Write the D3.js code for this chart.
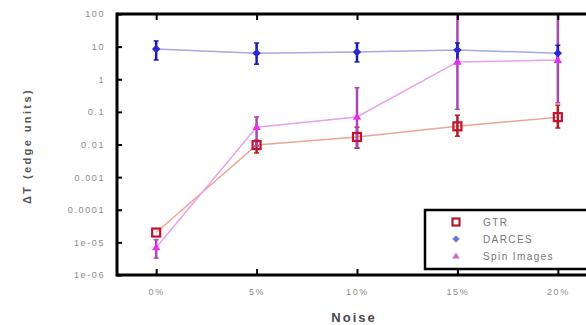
<!DOCTYPE html>
<html>
<head>
<meta charset="utf-8">
<script src="https://cdn.jsdelivr.net/npm/d3@7"></script>
<style>
  html, body { margin: 0; padding: 0; background: #fff; }
  svg { display: block; }
  text { font-family: "Liberation Sans", Arial, sans-serif; }
</style>
</head>
<body>
<svg id="chart" width="586" height="325"></svg>
<script>
// Noise levels (percent) on the x axis
const noise = [0, 5, 10, 15, 20];
const noiseLabels = ["0%", "5%", "10%", "15%", "20%"];

// Decade ticks on the log y axis
const yTicks = [1e-6, 1e-5, 1e-4, 1e-3, 1e-2, 1e-1, 1, 10, 100];
const yTickLabels = ["1e-06", "1e-05", "0.0001", "0.001", "0.01", "0.1", "1", "10", "100"];

// GTR
const gtrMean = [2e-5, 0.0096, 0.017, 0.036, 0.069];
const gtrLow  = [2e-5, 0.0055, 0.0077, 0.018, 0.032];
const gtrHigh = [2e-5, 0.0136, 0.034, 0.079, 0.16];

// DARCES
const darcesMean = [8.5, 6.3, 6.8, 7.9, 6.3];
const darcesLow  = [3.9, 2.9, 3.4, 3.4, 3.4];
const darcesHigh = [14.9, 12.9, 12.9, 12.9, 11.0];

// Spin Images
const spinMean = [7e-6, 0.034, 0.07, 3.4, 3.9];
const spinLow  = [3.3e-6, 0.009, 0.008, 0.12, 0.19];
const spinHigh = [1.2e-5, 0.07, 0.55, 300, 300];

const seriesNames = ["GTR", "DARCES", "Spin Images"];

const svg = d3.select("#chart");
const padL = 117, padT = 14, padB = 275, padR = 598;

const x = d3.scaleLinear().domain([-1.95, 22]).range([padL, padR]);
const y = d3.scaleLog().domain([1e-6, 100]).range([padB, padT]);

// clip region for the data
svg.append("clipPath").attr("id", "plotClip")
  .append("rect").attr("x", padL).attr("y", padT).attr("width", padR - padL).attr("height", padB - padT);

const plot = svg.append("g").attr("clip-path", "url(#plotClip)");

const series = [
  { name: "GTR", mean: gtrMean, low: gtrLow, high: gtrHigh,
    line: "#eba596", err: "#a8202a", marker: "square", mk: "#c8102e" },
  { name: "Spin Images", mean: spinMean, low: spinLow, high: spinHigh,
    line: "#e8a0e8", err: "#a848b0", marker: "triangle", mk: "#e830e8" },
  { name: "DARCES", mean: darcesMean, low: darcesLow, high: darcesHigh,
    line: "#a8a8e4", err: "#1818b0", marker: "diamond", mk: "#2a2ad0" }
];

const line = d3.line().x((d, i) => x(noise[i])).y(d => y(d));

series.forEach(s => {
  plot.append("path").datum(s.mean)
    .attr("d", line).attr("fill", "none")
    .attr("stroke", s.line).attr("stroke-width", 1.5);
});

series.forEach(s => {
  const g = plot.append("g");
  noise.forEach((n, i) => {
    if (s.low[i] === s.high[i]) return;
    g.append("line")
      .attr("x1", x(n)).attr("x2", x(n))
      .attr("y1", y(s.low[i])).attr("y2", y(s.high[i]))
      .attr("stroke", s.err).attr("stroke-width", 2.5);
    [s.low[i], s.high[i]].forEach(v => {
      g.append("line")
        .attr("x1", x(n) - 2.5).attr("x2", x(n) + 2.5)
        .attr("y1", y(v)).attr("y2", y(v))
        .attr("stroke", s.err).attr("stroke-width", 1.5);
    });
  });
});

function drawMarker(g, type, cx, cy, color, size) {
  if (type === "square") {
    g.append("rect")
      .attr("x", cx - size / 2).attr("y", cy - size / 2)
      .attr("width", size).attr("height", size)
      .attr("fill", "none").attr("stroke", color).attr("stroke-width", 2.2);
  } else if (type === "diamond") {
    const r = size * 0.6;
    g.append("path")
      .attr("d", `M${cx},${cy - r}L${cx + r},${cy}L${cx},${cy + r}L${cx - r},${cy}Z`)
      .attr("fill", color);
  } else {
    const r = size * 0.6;
    g.append("path")
      .attr("d", `M${cx},${cy - r}L${cx + r},${cy + r * 0.7}L${cx - r},${cy + r * 0.7}Z`)
      .attr("fill", color);
  }
}

series.forEach(s => {
  const g = plot.append("g");
  s.mean.forEach((v, i) => drawMarker(g, s.marker, x(noise[i]), y(v), s.mk, s.marker === "square" ? 8 : 7));
});

// frame and axes
const axisColor = "#000";
svg.append("line").attr("x1", padL).attr("x2", 586).attr("y1", padT).attr("y2", padT)
  .attr("stroke", axisColor).attr("stroke-width", 3);
svg.append("line").attr("x1", padL).attr("x2", 586).attr("y1", padB).attr("y2", padB)
  .attr("stroke", axisColor).attr("stroke-width", 3);
svg.append("line").attr("x1", padL).attr("x2", padL).attr("y1", padT - 1.5).attr("y2", padB + 1.5)
  .attr("stroke", axisColor).attr("stroke-width", 3);

// y axis ticks and labels
const yAxis = d3.axisLeft(y).tickValues(yTicks)
  .tickFormat((d, i) => yTickLabels[i]).tickSize(-5).tickPadding(12);
const gy = svg.append("g").attr("transform", `translate(${padL},0)`).call(yAxis);
gy.select(".domain").remove();
gy.selectAll(".tick line").attr("stroke", "#000").attr("stroke-width", 2);
gy.selectAll(".tick text").attr("fill", "#8a8a8a").attr("font-size", 9)
  .attr("letter-spacing", 1.6);

// bottom x axis
const xAxis = d3.axisBottom(x).tickValues(noise)
  .tickFormat((d, i) => noiseLabels[i]).tickSize(-6).tickPadding(14);
const gx = svg.append("g").attr("transform", `translate(0,${padB})`).call(xAxis);
gx.select(".domain").remove();
gx.selectAll(".tick line").attr("stroke", "#000").attr("stroke-width", 2);
gx.selectAll(".tick text").attr("fill", "#8a8a8a").attr("font-size", 9)
  .attr("letter-spacing", 1.6);

// top ticks
const gt = svg.append("g").attr("transform", `translate(0,${padT})`)
  .call(d3.axisTop(x).tickValues(noise).tickSize(-6).tickFormat(""));
gt.select(".domain").remove();
gt.selectAll(".tick line").attr("stroke", "#000").attr("stroke-width", 2);

// axis titles
svg.append("text").attr("x", 354).attr("y", 322)
  .attr("text-anchor", "middle").attr("font-size", 13).attr("font-weight", "bold")
  .attr("letter-spacing", 2).attr("fill", "#4a4a4a").text("Noise");

svg.append("text")
  .attr("transform", "translate(31,146) rotate(-90)")
  .attr("text-anchor", "middle").attr("font-size", 11).attr("font-weight", "bold")
  .attr("letter-spacing", 2.4).attr("fill", "#555").text("ΔT  (edge units)");

// legend
const lg = svg.append("g");
lg.append("rect").attr("x", 425).attr("y", 210).attr("width", 200).attr("height", 59)
  .attr("fill", "#fff").attr("stroke", "#000").attr("stroke-width", 2.5);
const legendItems = [
  { name: seriesNames[0], marker: "square", color: "#b01c2c", y: 222 },
  { name: seriesNames[1], marker: "diamond", color: "#7070d8", y: 239 },
  { name: seriesNames[2], marker: "triangle", color: "#c868c8", y: 256 }
];
legendItems.forEach(it => {
  drawMarker(lg, it.marker, 456, it.y, it.color, it.marker === "square" ? 7 : 6);
  lg.append("text").attr("x", 483).attr("y", it.y + 3.5)
    .attr("font-size", 10).attr("letter-spacing", 1.4).attr("fill", "#777").text(it.name);
});
</script>
</body>
</html>
